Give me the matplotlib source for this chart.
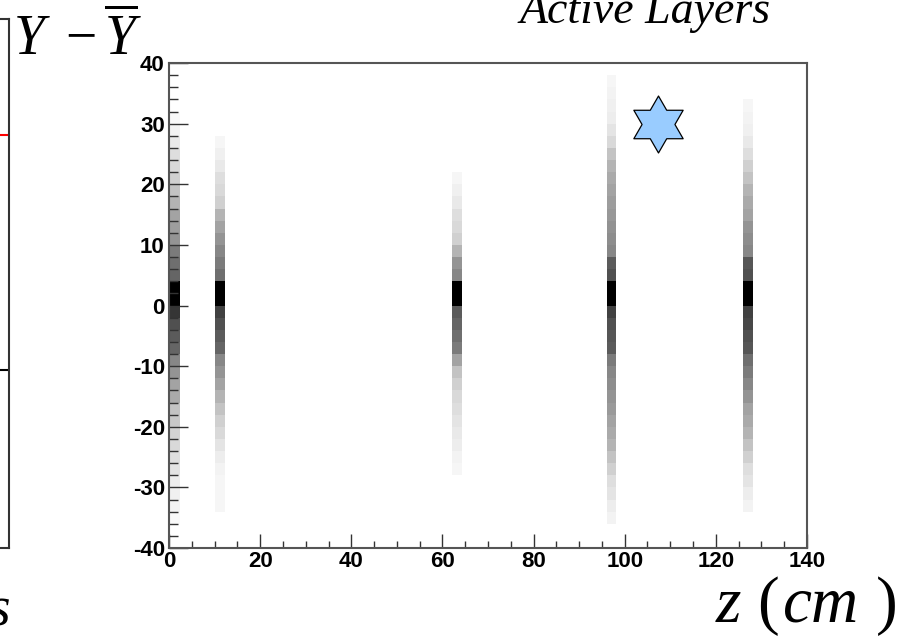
import numpy as np
import matplotlib
matplotlib.use('Agg')
import matplotlib.pyplot as plt
from matplotlib.path import Path
from matplotlib.ticker import MultipleLocator
from matplotlib.colors import PowerNorm

plt.rcParams['axes.unicode_minus'] = False
plt.rcParams['mathtext.fontset'] = 'custom'
plt.rcParams['mathtext.rm'] = 'Liberation Serif'
plt.rcParams['mathtext.it'] = 'Liberation Serif:italic'

# active layers: z extent (cm) of each hit band
layer_z_lo = [0.0, 10.1, 62.1, 96.1, 126.0]
layer_z_hi = [2.4, 12.3, 64.3, 98.1, 128.2]

# y bins (cm) and hit density in each bin (0 empty .. 1 saturated)
y_edges = np.arange(-40, 41, 2)
dens_l1 = [0, 0, 0.01, 0.03, 0.04, 0.05, 0.08, 0.1, 0.12, 0.14, 0.18, 0.2, 0.28, 0.3, 0.35, 0.4, 0.55, 0.6, 0.65, 0.75,
           1, 1, 0.55, 0.5, 0.45, 0.35, 0.32, 0.3, 0.25, 0.2, 0.15, 0.12, 0.1, 0.06, 0.03, 0.01, 0, 0, 0, 0]
dens_l2 = [0, 0, 0, 0.02, 0.02, 0.02, 0.03, 0.05, 0.08, 0.12, 0.15, 0.2, 0.25, 0.3, 0.35, 0.4, 0.55, 0.6, 0.65, 0.7,
           1, 1, 0.5, 0.45, 0.4, 0.35, 0.3, 0.25, 0.15, 0.12, 0.1, 0.06, 0.04, 0.02, 0, 0, 0, 0, 0, 0]
dens_l3 = [0, 0, 0, 0, 0, 0, 0.02, 0.03, 0.05, 0.06, 0.08, 0.1, 0.12, 0.15, 0.2, 0.3, 0.45, 0.5, 0.55, 0.6,
           1, 1, 0.4, 0.35, 0.25, 0.15, 0.12, 0.1, 0.06, 0.04, 0.02, 0, 0, 0, 0, 0, 0, 0, 0, 0]
dens_l4 = [0, 0, 0.03, 0.05, 0.08, 0.1, 0.15, 0.2, 0.25, 0.28, 0.3, 0.33, 0.35, 0.38, 0.4, 0.45, 0.6, 0.62, 0.65, 0.7,
           1, 1, 0.65, 0.6, 0.4, 0.38, 0.36, 0.34, 0.32, 0.3, 0.28, 0.25, 0.2, 0.12, 0.08, 0.05, 0.04, 0.03, 0.02, 0]
dens_l5 = [0, 0, 0, 0.03, 0.05, 0.08, 0.1, 0.15, 0.2, 0.25, 0.28, 0.3, 0.35, 0.4, 0.45, 0.5, 0.62, 0.65, 0.68, 0.7,
           1, 1, 0.65, 0.62, 0.4, 0.38, 0.35, 0.3, 0.28, 0.25, 0.2, 0.15, 0.1, 0.06, 0.04, 0.03, 0.02, 0, 0, 0]
layer_dens = [dens_l1, dens_l2, dens_l3, dens_l4, dens_l5]

# marker in the upper right
star_z = [107.3]
star_y = [30.0]

x_ticks = [0, 20, 40, 60, 80, 100, 120, 140]
y_ticks = [-40, -30, -20, -10, 0, 10, 20, 30, 40]

# neighbouring panel that is cut off at the left edge
left_red_level = 0.78
left_black_level = 0.337

W, H = 901, 641
fig = plt.figure(figsize=(W / 100, H / 100), dpi=100)
ax = fig.add_axes([169 / W, 1 - 548 / H, 638 / W, 485 / H])

for lo, hi, d in zip(layer_z_lo, layer_z_hi, layer_dens):
    c = np.ma.masked_equal(np.array(d, dtype=float).reshape(-1, 1), 0)
    ax.pcolormesh([lo, hi], y_edges, c, cmap='Greys', norm=PowerNorm(0.65, vmin=0, vmax=1), shading='flat')

star = Path.unit_regular_star(6, 1 / np.sqrt(3))
ax.plot(star_z, star_y, marker=star, markersize=41, color='#99ccff',
        markeredgecolor='black', markeredgewidth=0.9, linestyle='none')

ax.set_xlim(0, 140)
ax.set_ylim(-40, 40)
ax.set_xticks(x_ticks)
ax.set_yticks(y_ticks)
ax.xaxis.set_minor_locator(MultipleLocator(5))
ax.yaxis.set_minor_locator(MultipleLocator(2))
ax.set_xticklabels([str(t) for t in x_ticks], fontsize=16, fontweight='bold', family='Liberation Sans')
ax.set_yticklabels([str(t) for t in y_ticks], fontsize=16, fontweight='bold', family='Liberation Sans')
ax.tick_params(axis='both', which='both', direction='in', top=False, right=False, color='#333333', width=1)
ax.tick_params(axis='x', which='major', length=10.4, pad=2)
ax.tick_params(axis='x', which='minor', length=5.2)
ax.tick_params(axis='y', which='major', length=13.7, pad=3)
ax.tick_params(axis='y', which='minor', length=6.8)
for s in ax.spines.values():
    s.set_color('#555555')
    s.set_linewidth(1.5)

axl = fig.add_axes([-0.1, 1 - 548 / H, 0.1 + 8.5 / W, (548 - 19) / H])
axl.set_xlim(0, 1)
axl.set_ylim(0, 1)
axl.axhline(left_red_level, color='red', lw=1.5)
axl.axhline(left_black_level, color='black', lw=1.5)
axl.set_xticks([])
axl.set_yticks([])
for s in axl.spines.values():
    s.set_color('#333333')
    s.set_linewidth(1.5)

serif_it = dict(style='italic', family='Liberation Serif', va='baseline')
fig.text(520 / W, 1 - 23 / H, 'Active Layers', fontsize=33, ha='left', **serif_it)
fig.text(13 / W, 1 - 55 / H, r'$Y\ -\overline{Y}$', fontsize=40, ha='left', va='baseline')
# x-axis title, pieces placed like the original "z (cm)"
fig.text(741 / W, 1 - 622 / H, 'z', fontsize=47, ha='right', **serif_it)
fig.text(757 / W, 1 - 622 / H, '(', fontsize=47, ha='left', family='Liberation Serif', va='baseline')
fig.text(783 / W, 1 - 622 / H, 'cm', fontsize=47, ha='left', **serif_it)
fig.text(876 / W, 1 - 622 / H, ')', fontsize=47, ha='left', family='Liberation Serif', va='baseline')
fig.text(10 / W, 1 - 626 / H, 's', fontsize=40, ha='right', **serif_it)

fig.savefig('out.png', dpi=100)
